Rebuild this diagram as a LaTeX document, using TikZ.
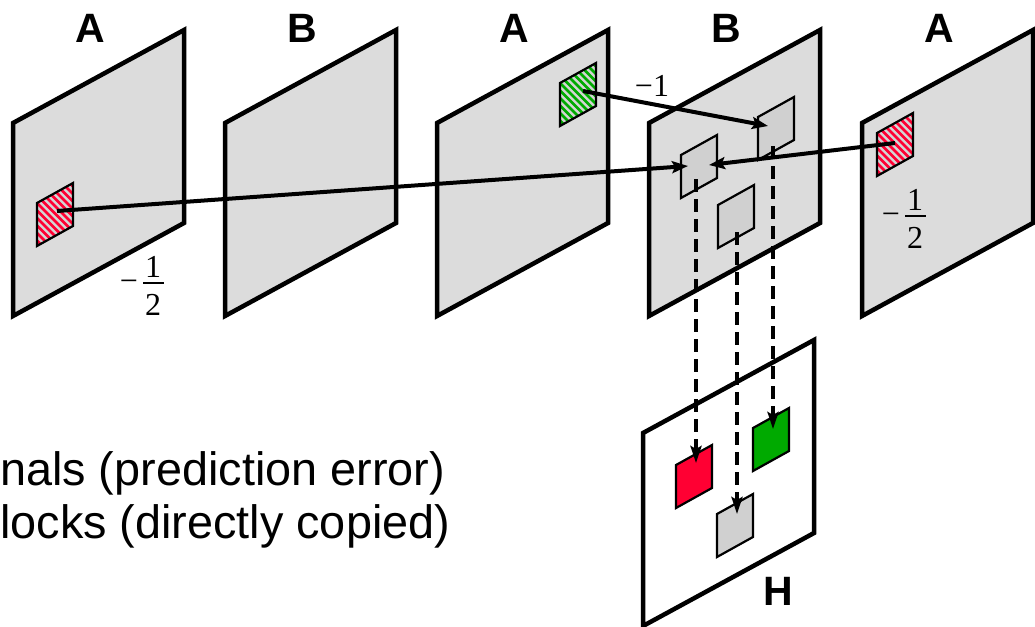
\documentclass[tikz,border=0pt]{standalone}
\usepackage{fontspec}
\setmainfont{Liberation Serif}
\setsansfont{Liberation Sans}
\usetikzlibrary{arrows.meta}

\definecolor{panelgray}{HTML}{DCDCDC}
\definecolor{blockgray}{HTML}{D0D0D0}
\definecolor{resred}{HTML}{FF0033}
\definecolor{resgreen}{HTML}{00AA00}
\definecolor{stripebg}{HTML}{D4D4D4}

% a frame seen in perspective: top-left corner, fill colour
\newcommand{\framepanel}[3]{%
  \draw[panel, fill=#3] (#1,#2) -- ++(171,-93) -- ++(0,193) -- ++(-171,93) -- cycle;}
% a plain block inside a frame
\newcommand{\blockpatch}[3]{%
  \draw[block, fill=#3] (#1,#2) -- ++(36,-20) -- ++(0,43) -- ++(-36,20) -- cycle;}
% a striped reference block
\newcommand{\stripedpatch}[3]{%
  \begin{scope}[shift={(#1,#2)}]
    \begin{scope}
      \clip (0,0) -- (36,-20) -- (36,23) -- (0,43) -- cycle;
      \fill[stripebg] (-5,-30) rectangle (45,50);
      \foreach \k in {-7,...,9}
        \draw[#3, line width=2.7pt] (\k*7.5-40,-40) -- ++(100,100);
    \end{scope}
    \draw[block] (0,0) -- (36,-20) -- (36,23) -- (0,43) -- cycle;
  \end{scope}}
% the weight -1/2: minus sign, numerator, denominator and rule around a centre point
\newcommand{\halfweight}[3]{%
  \node[weight] (#3m) at (#1-13,#2+8) {−};
  \node[weight] (#3n) at (#1+11,#2-6) {1};
  \node[weight] (#3d) at (#1+11,#2+32) {2};
  \draw[line width=1.5pt] (#1+1,#2) -- (#1+22,#2);}

\begin{document}
\begin{tikzpicture}[x=1pt, y=-1pt,
  panel/.style={line width=4.5pt, line join=miter},
  block/.style={line width=2.2pt, line join=miter},
  framelabel/.style={font=\sffamily\bfseries\fontsize{41}{49}\selectfont, inner sep=0pt, anchor=base},
  legend/.style={font=\sffamily\fontsize{46.8}{56}\selectfont, inner sep=0pt, anchor=base west},
  weight/.style={font=\fontsize{32}{38}\selectfont, inner sep=0pt, anchor=base},
  conn/.style={line width=4pt, -{Stealth[length=16pt, width=12pt, inset=3pt]}},
  copyconn/.style={line width=3.4pt, dash pattern=on 13pt off 7pt,
    -{Stealth[length=17pt, width=11pt, inset=3pt]}}]
  \useasboundingbox (0,0) rectangle (1035,626);

  % the five frames of the sequence
  \framepanel{13}{123}{panelgray}
  \framepanel{225}{123}{panelgray}
  \framepanel{437}{123}{panelgray}
  \framepanel{649}{123}{panelgray}
  \framepanel{862}{123}{panelgray}

  % frame labels
  \node[framelabel] (labA1) at (90,43) {A};
  \node[framelabel] (labB2) at (302,43) {B};
  \node[framelabel] (labA3) at (514,43) {A};
  \node[framelabel] (labB4) at (726,43) {B};
  \node[framelabel] (labA5) at (939,43) {A};

  % reference blocks
  \stripedpatch{37}{203}{resred}
  \stripedpatch{560}{83}{resgreen}
  \stripedpatch{877}{133}{resred}

  % blocks of the current frame
  \blockpatch{681}{155}{blockgray}
  \blockpatch{758}{117}{blockgray}
  \blockpatch{718}{205}{blockgray}

  % output frame
  \framepanel{643}{433}{white}
  \blockpatch{676}{465}{resred}
  \blockpatch{753}{428}{resgreen}
  \blockpatch{717}{514}{blockgray}
  \node[framelabel] (labH) at (778,605) {H};

  % weights
  \halfweight{142}{283}{wA1}
  \node[weight] (wA3) at (652,96) {−1};
  \halfweight{904}{216}{wA5}

  % legend text
  \node[legend] (legres) at (0,485) {nals (prediction error)};
  \node[legend] (legcopy) at (0,538) {locks (directly copied)};

  % connector end points
  \coordinate (srcA1) at (57,211);
  \coordinate (srcA3) at (583,91);
  \coordinate (srcA5) at (895,143);
  \coordinate (dstL) at (688,166);
  \coordinate (dstR) at (709,165);
  \coordinate (dstT) at (768,126);
  \coordinate (outL) at (696,179);
  \coordinate (outM) at (737,232);
  \coordinate (outT) at (773,146);
  \coordinate (inRed) at (696,463);
  \coordinate (inGray) at (737,514);
  \coordinate (inGreen) at (773,429);

  % motion vectors
  \draw[conn] (srcA1) -- (dstL);
  \draw[conn] (srcA3) -- (dstT);
  \draw[conn] (srcA5) -- (dstR);

  % copies into the output frame
  \draw[copyconn] (outL) -- (inRed);
  \draw[copyconn] (outM) -- (inGray);
  \draw[copyconn] (outT) -- (inGreen);
\end{tikzpicture}
\end{document}
